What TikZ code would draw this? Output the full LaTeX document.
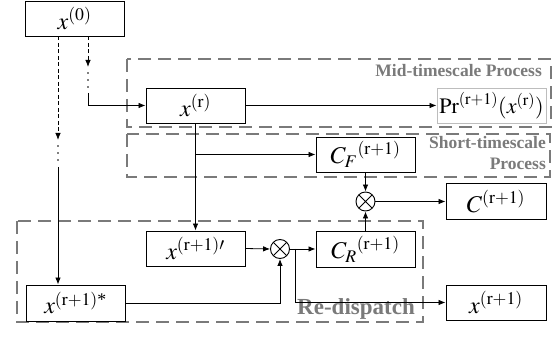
\documentclass[tikz,border=0pt]{standalone}
\usepackage{amsmath}
\usepackage{mathptmx}
\usepackage{fontspec}
\setmainfont{Liberation Serif}
\usetikzlibrary{arrows.meta}
\definecolor{grp}{HTML}{7A7A7A}
\definecolor{lgr}{HTML}{BDBDBD}
\begin{document}
\begin{tikzpicture}[x=1pt,y=-1pt,
  box/.style={draw, line width=0.9pt, fill=white, minimum width=99pt, minimum height=35pt, inner sep=0pt, font=\fontsize{24}{28}\selectfont},
  grpbox/.style={draw=grp, line width=1.8pt, dash pattern=on 13pt off 7pt},
  lbl/.style={text=grp, font=\bfseries\fontsize{17.5}{20}\selectfont, inner sep=0pt, anchor=base east},
  conn/.style={line width=0.8pt, draw=black},
  arr/.style={conn, -{Latex[length=7pt,width=5.5pt]}},
  dsh/.style={dash pattern=on 4pt off 2.5pt},
  otimes/.style={draw, circle, line width=0.9pt, fill=white, minimum size=19pt, inner sep=0pt,
    path picture={\draw[line width=0.9pt] (path picture bounding box.north west) -- (path picture bounding box.south east)
      (path picture bounding box.north east) -- (path picture bounding box.south west);}},
  dotc/.style={fill=black}
]
\useasboundingbox (0,0) rectangle (558,339);
% group boxes
\draw[grpbox] (127,59) rectangle (551,127);
\draw[grpbox] (127,134) rectangle (550,177);
\draw[grpbox] (17,221) rectangle (423,322);
\node[lbl] (lmid) at (542,76.5) {Mid-timescale Process};
\node[lbl] (lsh1) at (546,149) {Short-timescale};
\node[lbl] (lsh2) at (546,170) {Process};
\node[lbl, font=\bfseries\fontsize{23}{26}\selectfont] (lre) at (415,315) {Re-dispatch};
% nodes
\node[box] (x0) at (74.5,18.5) {$x^{(0)}$};
\node[box] (xr) at (195.5,105.5) {$x^{(\mathrm{r})}$};
\node[box, draw=lgr, minimum width=109pt, font=\fontsize{22}{26}\selectfont] (pr) at (491.5,105.5) {$\mathrm{Pr}^{(\mathrm{r+1})}(x^{(\mathrm{r})})$};
\node[box] (cf) at (365.5,154.5) {${C_F}^{(\mathrm{r+1})}$};
\node[box] (xp) at (195.5,248.5) {$x^{(\mathrm{r+1})\prime}$};
\node[box, minimum height=36pt] (xs) at (75.5,303) {$x^{(\mathrm{r+1})\text{*}}$};
\node[box, minimum height=36pt] (cr) at (365.5,249) {${C_R}^{(\mathrm{r+1})}$};
\node[box, minimum width=100pt, minimum height=36pt] (c) at (496,201.5) {$C^{(\mathrm{r+1})}$};
\node[box, minimum width=100pt] (xn) at (496,302.5) {$x^{(\mathrm{r+1})}$};
\node[otimes] (o1) at (280,249) {};
\node[otimes] (o2) at (365.5,201.5) {};
% left dash-dot line
\coordinate (la) at (58,140);
\coordinate (lb) at (58,167);
\draw[arr, dsh] (x0.south -| la) -- (la);
\foreach \yy in {146,153,160} \fill[dotc] (58,\yy) circle (0.9pt);
\draw[arr] (lb) -- (xs.north -| lb);
% right dash-dot line
\coordinate (ra) at (88,67);
\coordinate (rb) at (88,93);
\draw[arr, dsh] (x0.south -| ra) -- (ra);
\foreach \yy in {73,80,87} \fill[dotc] (88,\yy) circle (0.9pt);
\draw[arr] (rb) |- (xr.west);
% other connectors
\draw[arr] (xr.east) -- (pr.west);
\draw[arr] (xr.south) -- (xp.north);
\draw[arr] (xr.south |- cf.west) -- (cf.west);
\draw[arr] (xp.east) -- (o1.west);
\draw[arr] (xs.east) -| (o1.south);
\coordinate (br) at (295,249);
\draw[conn] (o1.east) -- (br);
\draw[arr] (br) -- (cr.west);
\draw[arr] (br) |- (xn.west);
\draw[arr] (cf.south) -- (o2.north);
\draw[arr] (cr.north) -- (o2.south);
\draw[arr] (o2.east) -- (c.west);
\end{tikzpicture}
\end{document}
